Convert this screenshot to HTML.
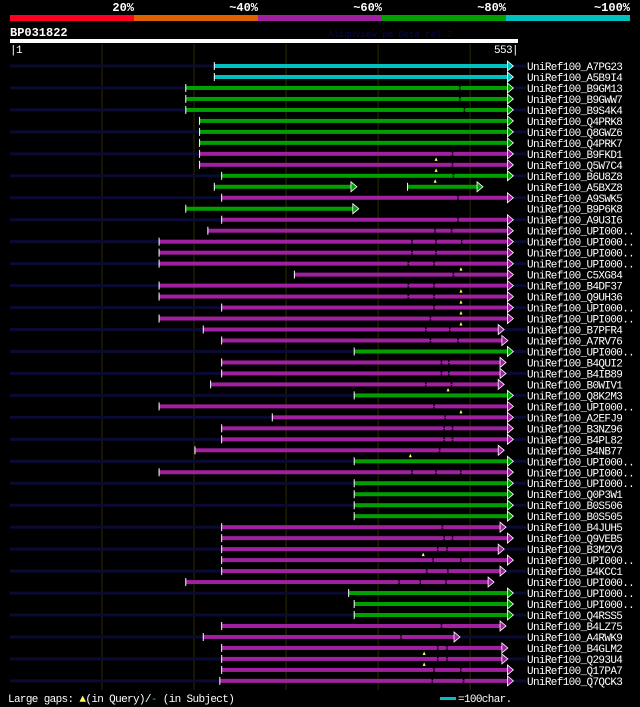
<!DOCTYPE html>
<html><head><meta charset="utf-8">
<style>
html,body{margin:0;padding:0;background:#000;width:640px;height:707px;overflow:hidden}
svg{display:block}
text{font-family:"Liberation Mono","DejaVu Sans Mono",monospace}
</style></head>
<body>
<svg id="chart" width="640" height="707" viewBox="0 0 640 707">
  <g>
    <rect x="10" y="15" width="124" height="6" fill="#ff0020"/>
    <rect x="134" y="15" width="124" height="6" fill="#e06000"/>
    <rect x="258" y="15" width="124" height="6" fill="#a020a0"/>
    <rect x="382" y="15" width="124" height="6" fill="#00a000"/>
    <rect x="506" y="15" width="124" height="6" fill="#00c0c0"/>
    <text x="134" y="11" fill="#fff" font-size="12" font-weight="bold" text-anchor="end">20%</text>
    <text x="258" y="11" fill="#fff" font-size="12" font-weight="bold" text-anchor="end">~40%</text>
    <text x="382" y="11" fill="#fff" font-size="12" font-weight="bold" text-anchor="end">~60%</text>
    <text x="506" y="11" fill="#fff" font-size="12" font-weight="bold" text-anchor="end">~80%</text>
    <text x="630" y="11" fill="#fff" font-size="12" font-weight="bold" text-anchor="end">~100%</text>
  </g>
  <text x="10" y="36" fill="#fff" font-size="12" font-weight="bold">BP031822</text>
  <text x="328" y="37" fill="#0a0a40" font-size="9">AlignView.pm Beta rel.7</text>
  <rect x="10" y="39" width="508" height="4" fill="#fff"/>
  <text x="10" y="53" fill="#fff" font-size="11" letter-spacing="-0.6">|1</text>
  <text x="518" y="53" fill="#fff" font-size="11" letter-spacing="-0.6" text-anchor="end">553|</text>
  <g id="grid"></g>
  <g id="rows"></g>
  <text x="8" y="702" fill="#fff" font-size="11" letter-spacing="-0.65">Large gaps: <tspan fill="#ffff60">▲</tspan>(in Query)/<tspan fill="#00c0c0">-</tspan> (in Subject)</text>
  <rect x="440" y="697" width="16" height="3" fill="#00c0c0"/>
  <text x="458" y="702" fill="#fff" font-size="11" letter-spacing="-0.65">=100char.</text>
</svg>
<script>
const labels=["A7PG23","A5B9I4","B9GM13","B9GWW7","B9S4K4","Q4PRK8","Q8GWZ6","Q4PRK7","B9FKD1","Q5W7C4","B6U8Z8","A5BXZ8","A9SWK5","B9P6K8","A9U3I6","UPI000..","UPI000..","UPI000..","UPI000..","C5XG84","B4DF37","Q9UH36","UPI000..","UPI000..","B7PFR4","A7RV76","UPI000..","B4QUI2","B4IB89","B0WIV1","Q8K2M3","UPI000..","A2EFJ9","B3NZ96","B4PL82","B4NB77","UPI000..","UPI000..","UPI000..","Q0P3W1","B0S506","B0S505","B4JUH5","Q9VEB5","B3M2V3","UPI000..","B4KCC1","UPI000..","UPI000..","UPI000..","Q4RSS5","B4LZ75","A4RWK9","B4GLM2","Q293U4","Q17PA7","Q7QCK3"];
const colorClass=["c","c","g","g","g","g","g","g","m","m","g","g","m","g","m","m","m","m","m","m","m","m","m","m","m","m","g","m","m","m","g","m","m","m","m","m","g","m","g","g","g","g","m","m","m","m","m","m","g","g","g","m","m","m","m","m","m"];
const starts=[223,223,192,192,192,207,207,207,207,207,231,223,231,192,231,216,163,163,163,310,163,163,231,163,211,231,375,231,231,219,375,163,286,231,231,202,375,163,375,375,375,375,231,231,231,231,231,192,369,375,375,231,211,231,231,231,229];
const ends=[548,548,548,548,548,548,548,548,548,548,548,378,548,380,548,548,548,548,548,548,548,548,548,548,538,542,548,540,540,538,548,548,548,548,548,538,548,548,548,548,548,548,540,548,538,548,540,527,548,548,548,540,490,542,542,548,548];
const hasNavy=[1,0,1,0,1,0,1,0,1,0,1,0,1,0,1,0,1,0,1,0,1,0,1,0,1,0,1,0,1,0,1,0,1,0,1,0,1,0,1,0,1,0,1,0,1,0,1,0,1,0,1,0,1,0,1,0,1];
const queryGaps=[null,null,null,null,null,null,null,null,464,464,463,null,null,null,null,null,null,null,491,null,491,491,491,491,null,null,null,null,null,477,null,491,null,null,null,436,null,null,null,null,null,null,null,null,450,null,null,null,null,null,null,null,null,451,451,null,null];
const subjGaps=[[],[],[489],[489],[494],[],[],[],[481],[481],[482],[],[487],[],[487],[462,480],[437,463,491],[437,463],[433,461],[482],[433,461],[433,461],[461],[457],[452,478],[457,487],[],[469,477],[469,477],[452,480],[],[461],[473],[472,481],[472,481],[467],[],[437,463,490],[],[],[],[],[470],[472,481],[465,475],[460,490],[453,476],[423,446,474],[],[],[],[469],[425],[465,475],[465,475],[461,490],[459,493]];
const extraSegStart=[null,null,null,null,null,null,null,null,null,null,null,433,null,null,null,null,null,null,null,null,null,null,null,null,null,null,null,null,null,null,null,null,null,null,null,null,null,null,null,null,null,null,null,null,null,null,null,null,null,null,null,null,null,null,null,null,null];
const extraSegEnd=[null,null,null,null,null,null,null,null,null,null,null,515,null,null,null,null,null,null,null,null,null,null,null,null,null,null,null,null,null,null,null,null,null,null,null,null,null,null,null,null,null,null,null,null,null,null,null,null,null,null,null,null,null,null,null,null,null];
const gridTicks=[100,200,300,400,500];

const NS="http://www.w3.org/2000/svg";
const palette={c:"#00c0c0",g:"#00a000",m:"#a020a0"};
function xScale(p){return 10+(p-1)*508/552;}
function yRow(i){return 66+i*10.98;}
function mk(tag,attrs,parent){const e=document.createElementNS(NS,tag);for(const k in attrs)e.setAttribute(k,attrs[k]);parent.appendChild(e);return e;}
const grid=document.getElementById('grid');
gridTicks.forEach(t=>{
  const l=mk('line',{x1:xScale(t+1),x2:xScale(t+1),y1:44,y2:690,stroke:"#2c2c00","stroke-width":1},grid);
  
  
});
const rows=document.getElementById('rows');
function segment(g,s,e,y,col,gaps){
  const x1=xScale(s),x2=xScale(e);
  const b=mk('rect',{x:x1,y:y-2,width:x2-x1-5,height:4,fill:col},g);
  
  
  (gaps||[]).forEach(gp=>{if(gp>s&&gp<e){const gx=xScale(gp);
    const k=mk('rect',{x:gx,y:y-2,width:1.5,height:4,fill:"#000"},g);
    
    
    mk('rect',{x:gx,y:y-0.5,width:1.5,height:1,fill:col},g);}});
  const t=mk('line',{x1:x1,x2:x1,y1:y-4,y2:y+4,stroke:"#fff","stroke-width":1},g);
  
  
  const a=mk('polygon',{points:`${x2-6},${y-5} ${x2},${y} ${x2-6},${y+5}`,fill:col,stroke:"#fff","stroke-width":0.8},g);
  
  
}
labels.forEach((lab,i)=>{
  const y=yRow(i);
  const g=mk('g',{},rows);
  
  
  const col=palette[colorClass[i]];
  if(hasNavy[i]){
    const n1=mk('rect',{x:10,y:y-1.5,width:xScale(starts[i])-10,height:3,fill:"#0a0a33"},g);
    
    
    const n2=mk('rect',{x:xScale(ends[i]),y:y-1.5,width:Math.max(0,526-xScale(ends[i])),height:3,fill:"#0a0a33"},g);
    
    
  }
  segment(g,starts[i],ends[i],y,col,subjGaps[i]);
  if(extraSegStart[i]!==null) segment(g,extraSegStart[i],extraSegEnd[i],y,col,[]);
  if(queryGaps[i]!==null){
    const qx=xScale(queryGaps[i]);
    const m=mk('polygon',{points:`${qx-1.5},${y+7} ${qx},${y+3.5} ${qx+1.5},${y+7}`,fill:"#ffff60"},g);
    
    
  }
  const tx=mk('text',{x:527,y:y+4,fill:"#fff","font-size":11,"letter-spacing":"-0.65"},g);
  tx.textContent='UniRef100_'+lab;
  
  
});
</script>
</body></html>
